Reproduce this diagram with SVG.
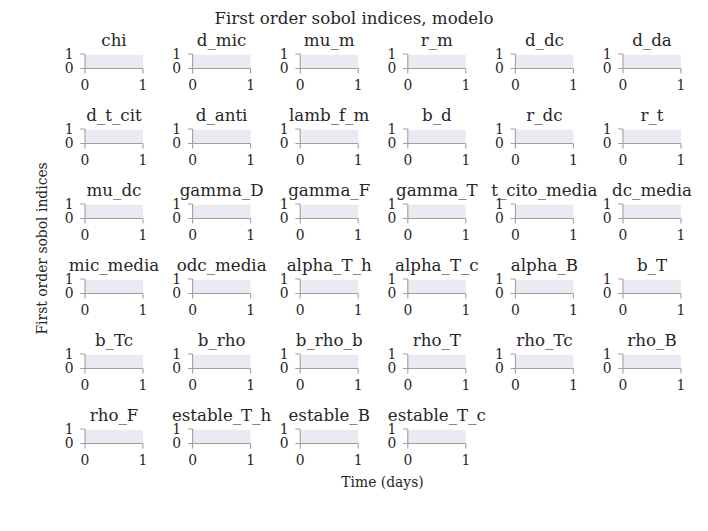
<svg xmlns="http://www.w3.org/2000/svg" xmlns:xlink="http://www.w3.org/1999/xlink" width="708" height="531" viewBox="0 0 708 531">
<style>
text{font-family:"DejaVu Serif","Liberation Serif",serif;fill:#262626}
.sup{font-size:16.67px;text-anchor:middle}
.t{font-size:16.67px;text-anchor:middle}
.yl{font-size:13.89px;text-anchor:end}
.xl{font-size:13.89px;text-anchor:middle}
.lab{font-size:13.89px;text-anchor:middle}
.sp{stroke:#a0a0a0;stroke-width:1.1;fill:none}
</style>
<defs>
<g id="ax">
<rect x="0" y="0" width="58" height="14.5" fill="#eaeaf2"/>
<line x1="0" y1="0.4" x2="58" y2="0.4" stroke="#ffffff" stroke-width="0.9"/>
<path class="sp" d="M0,0V14.5H58M-4.9,0H0M-4.9,14.5H0M0,14.5V19.4M58,14.5V19.4"/>
</g>
</defs>
<rect width="708" height="531" fill="#ffffff"/>
<text class="sup" x="354" y="24">First order sobol indices, modelo</text>
<text class="lab" x="382.5" y="486.5">Time (days)</text>
<text class="lab" transform="translate(46.5,248.4) rotate(-90)">First order sobol indices</text>

<g id="n-chi" transform="translate(85,54)"><use xlink:href="#ax"/><text class="t" x="29" y="-8">chi</text><text class="yl" x="-11.5" y="4.5">1</text><text class="yl" x="-11.5" y="19">0</text><text class="xl" x="0" y="36.3">0</text><text class="xl" x="58" y="36.3">1</text></g>
<g id="n-d_mic" transform="translate(192.6,54)"><use xlink:href="#ax"/><text class="t" x="29" y="-8">d_mic</text><text class="yl" x="-11.5" y="4.5">1</text><text class="yl" x="-11.5" y="19">0</text><text class="xl" x="0" y="36.3">0</text><text class="xl" x="58" y="36.3">1</text></g>
<g id="n-mu_m" transform="translate(300.2,54)"><use xlink:href="#ax"/><text class="t" x="29" y="-8">mu_m</text><text class="yl" x="-11.5" y="4.5">1</text><text class="yl" x="-11.5" y="19">0</text><text class="xl" x="0" y="36.3">0</text><text class="xl" x="58" y="36.3">1</text></g>
<g id="n-r_m" transform="translate(407.8,54)"><use xlink:href="#ax"/><text class="t" x="29" y="-8">r_m</text><text class="yl" x="-11.5" y="4.5">1</text><text class="yl" x="-11.5" y="19">0</text><text class="xl" x="0" y="36.3">0</text><text class="xl" x="58" y="36.3">1</text></g>
<g id="n-d_dc" transform="translate(515.4,54)"><use xlink:href="#ax"/><text class="t" x="29" y="-8">d_dc</text><text class="yl" x="-11.5" y="4.5">1</text><text class="yl" x="-11.5" y="19">0</text><text class="xl" x="0" y="36.3">0</text><text class="xl" x="58" y="36.3">1</text></g>
<g id="n-d_da" transform="translate(623,54)"><use xlink:href="#ax"/><text class="t" x="29" y="-8">d_da</text><text class="yl" x="-11.5" y="4.5">1</text><text class="yl" x="-11.5" y="19">0</text><text class="xl" x="0" y="36.3">0</text><text class="xl" x="58" y="36.3">1</text></g>

<g id="n-d_t_cit" transform="translate(85,129)"><use xlink:href="#ax"/><text class="t" x="29" y="-8">d_t_cit</text><text class="yl" x="-11.5" y="4.5">1</text><text class="yl" x="-11.5" y="19">0</text><text class="xl" x="0" y="36.3">0</text><text class="xl" x="58" y="36.3">1</text></g>
<g id="n-d_anti" transform="translate(192.6,129)"><use xlink:href="#ax"/><text class="t" x="29" y="-8">d_anti</text><text class="yl" x="-11.5" y="4.5">1</text><text class="yl" x="-11.5" y="19">0</text><text class="xl" x="0" y="36.3">0</text><text class="xl" x="58" y="36.3">1</text></g>
<g id="n-lamb_f_m" transform="translate(300.2,129)"><use xlink:href="#ax"/><text class="t" x="29" y="-8">lamb_f_m</text><text class="yl" x="-11.5" y="4.5">1</text><text class="yl" x="-11.5" y="19">0</text><text class="xl" x="0" y="36.3">0</text><text class="xl" x="58" y="36.3">1</text></g>
<g id="n-b_d" transform="translate(407.8,129)"><use xlink:href="#ax"/><text class="t" x="29" y="-8">b_d</text><text class="yl" x="-11.5" y="4.5">1</text><text class="yl" x="-11.5" y="19">0</text><text class="xl" x="0" y="36.3">0</text><text class="xl" x="58" y="36.3">1</text></g>
<g id="n-r_dc" transform="translate(515.4,129)"><use xlink:href="#ax"/><text class="t" x="29" y="-8">r_dc</text><text class="yl" x="-11.5" y="4.5">1</text><text class="yl" x="-11.5" y="19">0</text><text class="xl" x="0" y="36.3">0</text><text class="xl" x="58" y="36.3">1</text></g>
<g id="n-r_t" transform="translate(623,129)"><use xlink:href="#ax"/><text class="t" x="29" y="-8">r_t</text><text class="yl" x="-11.5" y="4.5">1</text><text class="yl" x="-11.5" y="19">0</text><text class="xl" x="0" y="36.3">0</text><text class="xl" x="58" y="36.3">1</text></g>

<g id="n-mu_dc" transform="translate(85,204)"><use xlink:href="#ax"/><text class="t" x="29" y="-8">mu_dc</text><text class="yl" x="-11.5" y="4.5">1</text><text class="yl" x="-11.5" y="19">0</text><text class="xl" x="0" y="36.3">0</text><text class="xl" x="58" y="36.3">1</text></g>
<g id="n-gamma_D" transform="translate(192.6,204)"><use xlink:href="#ax"/><text class="t" x="29" y="-8">gamma_D</text><text class="yl" x="-11.5" y="4.5">1</text><text class="yl" x="-11.5" y="19">0</text><text class="xl" x="0" y="36.3">0</text><text class="xl" x="58" y="36.3">1</text></g>
<g id="n-gamma_F" transform="translate(300.2,204)"><use xlink:href="#ax"/><text class="t" x="29" y="-8">gamma_F</text><text class="yl" x="-11.5" y="4.5">1</text><text class="yl" x="-11.5" y="19">0</text><text class="xl" x="0" y="36.3">0</text><text class="xl" x="58" y="36.3">1</text></g>
<g id="n-gamma_T" transform="translate(407.8,204)"><use xlink:href="#ax"/><text class="t" x="29" y="-8">gamma_T</text><text class="yl" x="-11.5" y="4.5">1</text><text class="yl" x="-11.5" y="19">0</text><text class="xl" x="0" y="36.3">0</text><text class="xl" x="58" y="36.3">1</text></g>
<g id="n-t_cito_media" transform="translate(515.4,204)"><use xlink:href="#ax"/><text class="t" x="29" y="-8">t_cito_media</text><text class="yl" x="-11.5" y="4.5">1</text><text class="yl" x="-11.5" y="19">0</text><text class="xl" x="0" y="36.3">0</text><text class="xl" x="58" y="36.3">1</text></g>
<g id="n-dc_media" transform="translate(623,204)"><use xlink:href="#ax"/><text class="t" x="29" y="-8">dc_media</text><text class="yl" x="-11.5" y="4.5">1</text><text class="yl" x="-11.5" y="19">0</text><text class="xl" x="0" y="36.3">0</text><text class="xl" x="58" y="36.3">1</text></g>

<g id="n-mic_media" transform="translate(85,279)"><use xlink:href="#ax"/><text class="t" x="29" y="-8">mic_media</text><text class="yl" x="-11.5" y="4.5">1</text><text class="yl" x="-11.5" y="19">0</text><text class="xl" x="0" y="36.3">0</text><text class="xl" x="58" y="36.3">1</text></g>
<g id="n-odc_media" transform="translate(192.6,279)"><use xlink:href="#ax"/><text class="t" x="29" y="-8">odc_media</text><text class="yl" x="-11.5" y="4.5">1</text><text class="yl" x="-11.5" y="19">0</text><text class="xl" x="0" y="36.3">0</text><text class="xl" x="58" y="36.3">1</text></g>
<g id="n-alpha_T_h" transform="translate(300.2,279)"><use xlink:href="#ax"/><text class="t" x="29" y="-8">alpha_T_h</text><text class="yl" x="-11.5" y="4.5">1</text><text class="yl" x="-11.5" y="19">0</text><text class="xl" x="0" y="36.3">0</text><text class="xl" x="58" y="36.3">1</text></g>
<g id="n-alpha_T_c" transform="translate(407.8,279)"><use xlink:href="#ax"/><text class="t" x="29" y="-8">alpha_T_c</text><text class="yl" x="-11.5" y="4.5">1</text><text class="yl" x="-11.5" y="19">0</text><text class="xl" x="0" y="36.3">0</text><text class="xl" x="58" y="36.3">1</text></g>
<g id="n-alpha_B" transform="translate(515.4,279)"><use xlink:href="#ax"/><text class="t" x="29" y="-8">alpha_B</text><text class="yl" x="-11.5" y="4.5">1</text><text class="yl" x="-11.5" y="19">0</text><text class="xl" x="0" y="36.3">0</text><text class="xl" x="58" y="36.3">1</text></g>
<g id="n-b_T" transform="translate(623,279)"><use xlink:href="#ax"/><text class="t" x="29" y="-8">b_T</text><text class="yl" x="-11.5" y="4.5">1</text><text class="yl" x="-11.5" y="19">0</text><text class="xl" x="0" y="36.3">0</text><text class="xl" x="58" y="36.3">1</text></g>

<g id="n-b_Tc" transform="translate(85,354)"><use xlink:href="#ax"/><text class="t" x="29" y="-8">b_Tc</text><text class="yl" x="-11.5" y="4.5">1</text><text class="yl" x="-11.5" y="19">0</text><text class="xl" x="0" y="36.3">0</text><text class="xl" x="58" y="36.3">1</text></g>
<g id="n-b_rho" transform="translate(192.6,354)"><use xlink:href="#ax"/><text class="t" x="29" y="-8">b_rho</text><text class="yl" x="-11.5" y="4.5">1</text><text class="yl" x="-11.5" y="19">0</text><text class="xl" x="0" y="36.3">0</text><text class="xl" x="58" y="36.3">1</text></g>
<g id="n-b_rho_b" transform="translate(300.2,354)"><use xlink:href="#ax"/><text class="t" x="29" y="-8">b_rho_b</text><text class="yl" x="-11.5" y="4.5">1</text><text class="yl" x="-11.5" y="19">0</text><text class="xl" x="0" y="36.3">0</text><text class="xl" x="58" y="36.3">1</text></g>
<g id="n-rho_T" transform="translate(407.8,354)"><use xlink:href="#ax"/><text class="t" x="29" y="-8">rho_T</text><text class="yl" x="-11.5" y="4.5">1</text><text class="yl" x="-11.5" y="19">0</text><text class="xl" x="0" y="36.3">0</text><text class="xl" x="58" y="36.3">1</text></g>
<g id="n-rho_Tc" transform="translate(515.4,354)"><use xlink:href="#ax"/><text class="t" x="29" y="-8">rho_Tc</text><text class="yl" x="-11.5" y="4.5">1</text><text class="yl" x="-11.5" y="19">0</text><text class="xl" x="0" y="36.3">0</text><text class="xl" x="58" y="36.3">1</text></g>
<g id="n-rho_B" transform="translate(623,354)"><use xlink:href="#ax"/><text class="t" x="29" y="-8">rho_B</text><text class="yl" x="-11.5" y="4.5">1</text><text class="yl" x="-11.5" y="19">0</text><text class="xl" x="0" y="36.3">0</text><text class="xl" x="58" y="36.3">1</text></g>

<g id="n-rho_F" transform="translate(85,429)"><use xlink:href="#ax"/><text class="t" x="29" y="-8">rho_F</text><text class="yl" x="-11.5" y="4.5">1</text><text class="yl" x="-11.5" y="19">0</text><text class="xl" x="0" y="36.3">0</text><text class="xl" x="58" y="36.3">1</text></g>
<g id="n-estable_T_h" transform="translate(192.6,429)"><use xlink:href="#ax"/><text class="t" x="29" y="-8">estable_T_h</text><text class="yl" x="-11.5" y="4.5">1</text><text class="yl" x="-11.5" y="19">0</text><text class="xl" x="0" y="36.3">0</text><text class="xl" x="58" y="36.3">1</text></g>
<g id="n-estable_B" transform="translate(300.2,429)"><use xlink:href="#ax"/><text class="t" x="29" y="-8">estable_B</text><text class="yl" x="-11.5" y="4.5">1</text><text class="yl" x="-11.5" y="19">0</text><text class="xl" x="0" y="36.3">0</text><text class="xl" x="58" y="36.3">1</text></g>
<g id="n-estable_T_c" transform="translate(407.8,429)"><use xlink:href="#ax"/><text class="t" x="29" y="-8">estable_T_c</text><text class="yl" x="-11.5" y="4.5">1</text><text class="yl" x="-11.5" y="19">0</text><text class="xl" x="0" y="36.3">0</text><text class="xl" x="58" y="36.3">1</text></g>
</svg>
